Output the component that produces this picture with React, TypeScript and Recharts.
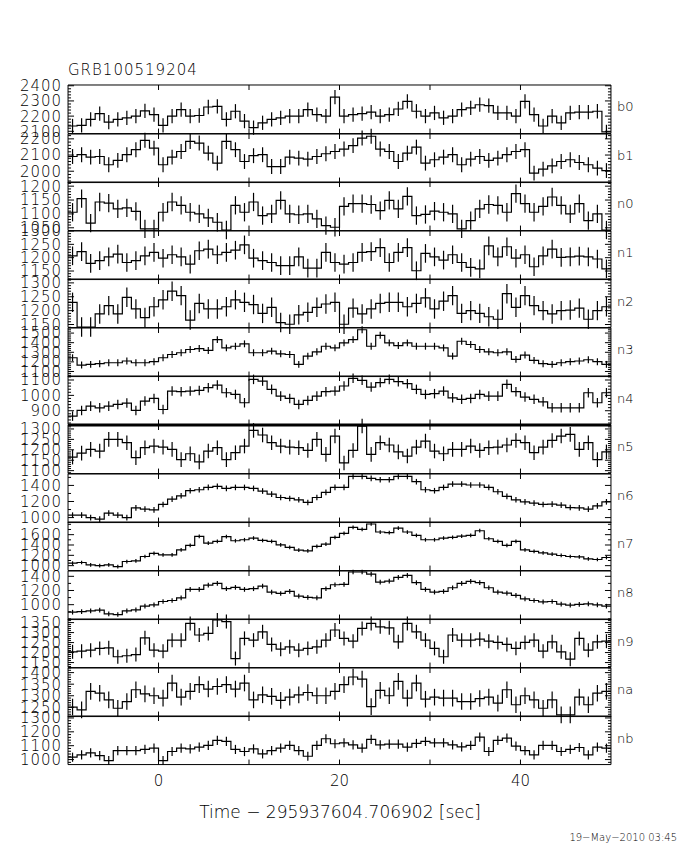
import { LineChart, Line, XAxis, YAxis, ErrorBar, ReferenceArea, ReferenceLine } from "recharts";

// bin centres, seconds since trigger
const timeBins = [
  -9.5, -8.5, -7.5, -6.5, -5.5, -4.5, -3.5, -2.5, -1.5, -0.5,
  0.5, 1.5, 2.5, 3.5, 4.5, 5.5, 6.5, 7.5, 8.5, 9.5,
  10.5, 11.5, 12.5, 13.5, 14.5, 15.5, 16.5, 17.5, 18.5, 19.5,
  20.5, 21.5, 22.5, 23.5, 24.5, 25.5, 26.5, 27.5, 28.5, 29.5,
  30.5, 31.5, 32.5, 33.5, 34.5, 35.5, 36.5, 37.5, 38.5, 39.5,
  40.5, 41.5, 42.5, 43.5, 44.5, 45.5, 46.5, 47.5, 48.5, 49.5,
];

const b0Rates = [
  2135, 2139, 2178, 2217, 2161, 2178, 2189, 2200, 2234, 2210,
  2139, 2200, 2243, 2200, 2204, 2260, 2264, 2178, 2232, 2167,
  2124, 2156, 2178, 2189, 2200, 2200, 2243, 2210, 2200, 2325,
  2200, 2210, 2217, 2226, 2200, 2210, 2247, 2297, 2232, 2200,
  2221, 2189, 2200, 2243, 2254, 2275, 2269, 2221, 2221, 2200,
  2297, 2210, 2135, 2200, 2156, 2221, 2226, 2226, 2232, 2096,
];
const b1Rates = [
  2091, 2102, 2087, 2091, 2040, 2067, 2102, 2133, 2191, 2143,
  2040, 2087, 2122, 2184, 2174, 2112, 2050, 2184, 2133, 2060,
  2096, 2102, 2029, 2029, 2087, 2081, 2075, 2091, 2108, 2122,
  2137, 2158, 2205, 2216, 2137, 2122, 2060, 2112, 2149, 2050,
  2071, 2087, 2102, 2040, 2075, 2091, 2067, 2081, 2102, 2122,
  2133, 1988, 2013, 2033, 2060, 2071, 2054, 2040, 2019, 2004,
];
const n0Rates = [
  1106, 1155, 1067, 1143, 1139, 1118, 1122, 1109, 1046, 1046,
  1106, 1143, 1131, 1106, 1100, 1086, 1070, 1042, 1131, 1106,
  1143, 1094, 1100, 1149, 1100, 1097, 1100, 1082, 1058, 1052,
  1127, 1137, 1137, 1134, 1112, 1149, 1118, 1163, 1094, 1098,
  1110, 1106, 1100, 1046, 1076, 1118, 1134, 1131, 1106, 1173,
  1137, 1106, 1127, 1161, 1131, 1100, 1137, 1076, 1100, 1042,
];
const n1Rates = [
  1207, 1223, 1179, 1189, 1203, 1213, 1182, 1189, 1207, 1220,
  1198, 1211, 1203, 1176, 1226, 1232, 1211, 1220, 1228, 1248,
  1198, 1189, 1182, 1170, 1170, 1203, 1161, 1161, 1220, 1182,
  1176, 1182, 1220, 1223, 1238, 1182, 1220, 1238, 1151, 1216,
  1203, 1191, 1211, 1182, 1164, 1158, 1244, 1203, 1241, 1198,
  1211, 1166, 1207, 1232, 1201, 1203, 1206, 1203, 1195, 1158,
];
const n2Rates = [
  1230, 1141, 1141, 1188, 1218, 1188, 1248, 1206, 1175, 1214,
  1239, 1270, 1254, 1166, 1226, 1206, 1206, 1214, 1239, 1230,
  1222, 1190, 1212, 1157, 1151, 1185, 1194, 1212, 1224, 1230,
  1151, 1209, 1188, 1206, 1226, 1230, 1230, 1214, 1226, 1246,
  1206, 1234, 1254, 1190, 1200, 1190, 1178, 1169, 1261, 1212,
  1254, 1218, 1200, 1188, 1200, 1202, 1209, 1169, 1200, 1214,
];
const n3Rates = [
  1243, 1167, 1174, 1181, 1191, 1191, 1209, 1191, 1191, 1202,
  1243, 1277, 1295, 1329, 1339, 1319, 1432, 1346, 1363, 1388,
  1295, 1295, 1312, 1284, 1277, 1174, 1260, 1305, 1363, 1346,
  1398, 1432, 1535, 1363, 1477, 1398, 1370, 1398, 1363, 1363,
  1363, 1346, 1260, 1415, 1381, 1329, 1305, 1295, 1305, 1226,
  1271, 1216, 1181, 1174, 1191, 1202, 1209, 1222, 1202, 1174,
];
const n4Rates = [
  865, 902, 930, 919, 930, 941, 950, 902, 963, 980,
  908, 1028, 1024, 1028, 1032, 1050, 1067, 1017, 1006, 952,
  1104, 1093, 1039, 995, 980, 941, 967, 995, 1024, 1028,
  1061, 1111, 1098, 1054, 1083, 1104, 1089, 1076, 1039, 1006,
  1011, 1028, 984, 974, 980, 1006, 995, 995, 1072, 1024,
  989, 974, 958, 919, 919, 919, 919, 1017, 952, 1017,
];
const n5Rates = [
  1165, 1184, 1202, 1194, 1250, 1250, 1234, 1162, 1210, 1218,
  1213, 1202, 1153, 1181, 1142, 1194, 1210, 1153, 1186, 1218,
  1293, 1271, 1234, 1218, 1213, 1210, 1197, 1250, 1178, 1266,
  1137, 1197, 1314, 1178, 1234, 1223, 1190, 1170, 1213, 1242,
  1194, 1181, 1202, 1202, 1218, 1197, 1210, 1213, 1223, 1245,
  1234, 1186, 1213, 1245, 1266, 1274, 1202, 1234, 1153, 1190,
];
const n6Rates = [
  1030, 1030, 1000, 980, 1055, 1030, 1000, 1121, 1105, 1096,
  1163, 1230, 1271, 1334, 1346, 1375, 1388, 1363, 1375, 1375,
  1363, 1330, 1292, 1250, 1238, 1221, 1188, 1250, 1313, 1375,
  1375, 1513, 1513, 1488, 1471, 1471, 1513, 1513, 1446, 1346,
  1334, 1375, 1417, 1417, 1405, 1405, 1375, 1321, 1263, 1221,
  1196, 1180, 1163, 1167, 1155, 1125, 1121, 1105, 1146, 1196,
];
const n7Rates = [
  1048, 1061, 1015, 1002, 1015, 983, 1080, 1093, 1177, 1236,
  1210, 1210, 1307, 1391, 1566, 1437, 1469, 1560, 1482, 1501,
  1534, 1488, 1469, 1404, 1352, 1300, 1287, 1372, 1417, 1547,
  1625, 1741, 1702, 1806, 1651, 1638, 1728, 1651, 1586, 1501,
  1501, 1534, 1547, 1573, 1586, 1676, 1521, 1469, 1391, 1469,
  1307, 1275, 1249, 1223, 1197, 1177, 1171, 1132, 1119, 1158,
];
const n8Rates = [
  894, 903, 913, 922, 870, 861, 913, 927, 979, 998,
  1045, 1059, 1097, 1215, 1215, 1277, 1300, 1225, 1244, 1215,
  1225, 1262, 1177, 1158, 1187, 1121, 1102, 1097, 1225, 1281,
  1286, 1461, 1461, 1432, 1319, 1333, 1385, 1414, 1310, 1215,
  1177, 1187, 1239, 1300, 1329, 1310, 1239, 1177, 1163, 1130,
  1083, 1059, 1040, 1045, 1007, 993, 1003, 1012, 998, 979,
];
const n9Rates = [
  1204, 1207, 1212, 1221, 1224, 1179, 1184, 1190, 1274, 1212,
  1207, 1262, 1262, 1346, 1288, 1296, 1363, 1355, 1170, 1271,
  1262, 1304, 1241, 1217, 1229, 1212, 1221, 1229, 1262, 1313,
  1271, 1257, 1321, 1346, 1329, 1324, 1254, 1346, 1304, 1262,
  1221, 1179, 1288, 1262, 1262, 1267, 1257, 1251, 1241, 1221,
  1251, 1262, 1207, 1254, 1204, 1167, 1271, 1212, 1254, 1257,
];
const naRates = [
  1251, 1239, 1319, 1311, 1282, 1246, 1275, 1326, 1308, 1300,
  1290, 1355, 1294, 1319, 1348, 1329, 1340, 1348, 1329, 1355,
  1282, 1304, 1297, 1280, 1294, 1304, 1314, 1300, 1300, 1319,
  1348, 1381, 1372, 1253, 1323, 1300, 1362, 1290, 1355, 1285,
  1294, 1290, 1290, 1275, 1275, 1288, 1294, 1268, 1326, 1261,
  1300, 1282, 1246, 1282, 1217, 1217, 1294, 1261, 1311, 1319,
];
const nbRates = [
  1017, 1034, 1048, 1029, 993, 1065, 1065, 1065, 1073, 1082,
  993, 1058, 1082, 1077, 1090, 1102, 1138, 1131, 1073, 1058,
  1077, 1041, 1065, 1082, 1102, 1065, 1024, 1102, 1150, 1114,
  1121, 1106, 1082, 1145, 1106, 1111, 1111, 1090, 1116, 1131,
  1121, 1121, 1106, 1092, 1102, 1162, 1058, 1138, 1155, 1097,
  1065, 1034, 1102, 1102, 1058, 1073, 1087, 1034, 1090, 1082,
];

const detectorNames = ["b0", "b1", "n0", "n1", "n2", "n3", "n4", "n5", "n6", "n7", "n8", "n9", "na", "nb"];
const detectorRates = [
  b0Rates, b1Rates, n0Rates, n1Rates, n2Rates, n3Rates, n4Rates,
  n5Rates, n6Rates, n7Rates, n8Rates, n9Rates, naRates, nbRates,
];
const rangeLow = [2085, 1930, 1040, 1118, 1139, 1047, 810, 1086, 938, 905, 790, 1125, 1210, 964];
const rangeHigh = [2405, 2230, 1215, 1300, 1314, 1553, 1126, 1319, 1542, 1845, 1475, 1368, 1420, 1314];
const labelTicks = [
  [2100, 2200, 2300, 2400],
  [2000, 2100, 2200],
  [1050, 1100, 1150, 1200],
  [1150, 1200, 1250, 1300],
  [1150, 1200, 1250, 1300],
  [1100, 1200, 1300, 1400, 1500],
  [900, 1000, 1100],
  [1100, 1150, 1200, 1250, 1300],
  [1000, 1200, 1400],
  [1000, 1200, 1400, 1600],
  [1000, 1200, 1400],
  [1150, 1200, 1250, 1300, 1350],
  [1250, 1300, 1350, 1400],
  [1000, 1100, 1200, 1300],
];
const minorStep = [20, 20, 10, 10, 10, 20, 20, 10, 100, 100, 100, 10, 10, 20];
const rateErrors = [47, 46, 33, 35, 35, 36, 31, 35, 35, 36, 33, 35, 36, 33];
const timeTicks = [0, 10, 20, 30, 40];
const timeLabels = [0, 20, 40];

const PLOT_LEFT = 68;
const PLOT_RIGHT = 611;
const FIRST_TOP = 85;
const PANEL_H = 680 / 14;
const FONT = '"DejaVu Sans", sans-serif';

const buildRows = (values: number[], err: number) => [
  { t: -10, v: values[0], e: 0 },
  ...timeBins.map((t, i) => ({ t, v: values[i], e: err })),
  { t: 50, v: values[values.length - 1], e: 0 },
];

const axisTicks = (lo: number, hi: number, step: number) => {
  const out: number[] = [];
  for (let v = Math.ceil(lo / step) * step; v <= hi; v += step) out.push(v);
  return out;
};

const YTick = (props: any) => {
  const { x, y, payload, majors } = props;
  const major = majors.includes(payload.value);
  const len = major ? 6 : 3;
  return (
    <g>
      <line x1={x} x2={x + len} y1={y} y2={y} stroke="#000" strokeWidth={1} />
      <line x1={PLOT_RIGHT} x2={PLOT_RIGHT - len} y1={y} y2={y} stroke="#000" strokeWidth={1} />
      {major && (
        <text
          x={x - 6}
          y={y}
          dy="0.36em"
          textAnchor="end"
          fontSize={15}
          letterSpacing={1}
          fontFamily={FONT}
          fontWeight={300}
          fill="#000"
        >
          {payload.value}
        </text>
      )}
    </g>
  );
};

const XTick = (props: any) => {
  const { x, y, payload, showLabel } = props;
  const top = y - PANEL_H;
  return (
    <g>
      <line x1={x} x2={x} y1={y} y2={y - 5} stroke="#000" strokeWidth={1} />
      <line x1={x} x2={x} y1={top} y2={top + 5} stroke="#000" strokeWidth={1} />
      {showLabel && timeLabels.includes(payload.value) && (
        <text
          x={x}
          y={y + 16}
          dy="0.36em"
          textAnchor="middle"
          fontSize={15}
          fontFamily={FONT}
          fontWeight={300}
          fill="#000"
        >
          {payload.value}
        </text>
      )}
    </g>
  );
};

const Panel = ({ index }: { index: number }) => {
  const last = index === detectorNames.length - 1;
  const padTop = 10;
  const padBottom = last ? 30 : 10;
  const lo = rangeLow[index];
  const hi = rangeHigh[index];
  const rows = buildRows(detectorRates[index], rateErrors[index]);
  const majors = labelTicks[index];
  const ticks = axisTicks(lo, hi, minorStep[index]);
  return (
    <div style={{ position: "absolute", left: 0, top: FIRST_TOP + index * PANEL_H - padTop }}>
      <LineChart
        width={680}
        height={PANEL_H + padTop + padBottom}
        data={rows}
        margin={{ top: padTop, right: 680 - PLOT_RIGHT, bottom: 0, left: 8 }}
      >
        <XAxis
          type="number"
          dataKey="t"
          domain={[-10, 50]}
          ticks={timeTicks}
          interval={0}
          height={padBottom}
          tickSize={0}
          tickMargin={0}
          axisLine={false}
          allowDataOverflow
          tick={(p: any) => <XTick {...p} showLabel={last} />}
        />
        <YAxis
          type="number"
          domain={[lo, hi]}
          ticks={ticks}
          interval={0}
          width={PLOT_LEFT - 8}
          tickSize={0}
          tickMargin={0}
          axisLine={false}
          allowDataOverflow
          tick={(p: any) => <YTick {...p} majors={majors} />}
        />
        <ReferenceArea
          x1={-10}
          x2={50}
          y1={lo}
          y2={hi}
          fill="none"
          stroke="#000"
          strokeWidth={1}
          ifOverflow="visible"
        />
        {detectorNames[index] === "n5" && (
          <ReferenceLine y={hi} stroke="#000" strokeWidth={3} ifOverflow="visible" />
        )}
        <Line
          type="step"
          dataKey="v"
          stroke="#000"
          strokeWidth={1.2}
          dot={false}
          isAnimationActive={false}
        >
          <ErrorBar dataKey="e" width={0} stroke="#000" strokeWidth={1.2} isAnimationActive={false} />
        </Line>
      </LineChart>
      <div
        style={{
          position: "absolute",
          left: 617,
          top: padTop + PANEL_H / 2 - 10,
          fontFamily: FONT,
          fontWeight: 300,
          fontSize: 13,
          lineHeight: "16px",
        }}
      >
        {detectorNames[index]}
      </div>
    </div>
  );
};

export default function App() {
  return (
    <div
      style={{
        position: "absolute",
        left: 0,
        top: 0,
        width: 680,
        height: 850,
        background: "#fff",
        fontFamily: FONT,
        color: "#000",
      }}
    >
      <div style={{ position: "absolute", left: 68, top: 61, fontSize: 15, letterSpacing: 1, fontWeight: 300 }}>
        GRB100519204
      </div>
      {detectorNames.map((name, i) => (
        <Panel key={name} index={i} />
      ))}
      <div
        style={{
          position: "absolute",
          left: 0,
          width: 680,
          top: 802,
          textAlign: "center",
          fontSize: 17,
          fontWeight: 300,
        }}
      >
        Time − 295937604.706902 [sec]
      </div>
      <div style={{ position: "absolute", right: 3, top: 832, fontSize: 10, fontWeight: 300 }}>
        19−May−2010 03:45
      </div>
    </div>
  );
}
